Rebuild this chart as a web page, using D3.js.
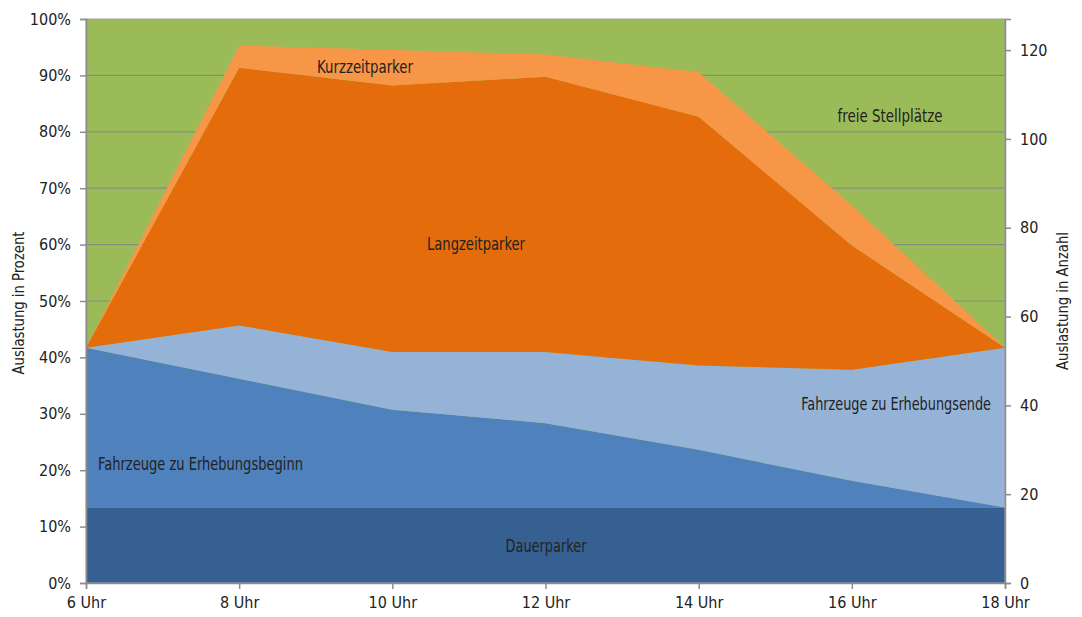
<!DOCTYPE html>
<html><head><meta charset="utf-8">
<script src="https://cdn.jsdelivr.net/npm/d3@7"></script>
<style>
html,body{margin:0;padding:0;background:#fff;}
svg{display:block;}
text{font-family:"Liberation Sans Narrow","DejaVu Sans Condensed","Roboto",sans-serif;fill:#222;}
</style></head>
<body>
<svg id="chart" width="1082" height="617"></svg>
<script>
// ---- data (vehicle counts) ----
const times = ["6 Uhr","8 Uhr","10 Uhr","12 Uhr","14 Uhr","16 Uhr","18 Uhr"];
const capacity = 127;
const dauerparker = [17,17,17,17,17,17,17];
const beginn      = [36,29,22,19,13,6,0];
const ende        = [0,12,13,16,19,25,36];
const langzeit    = [0,58,60,62,56,28,0];
const kurzzeit    = [0,5,8,5,10,9,0];
const percentTicks = [0,0.1,0.2,0.3,0.4,0.5,0.6,0.7,0.8,0.9,1];
const countTicks = [0,20,40,60,80,100,120];
const seriesNames = ["Dauerparker","Fahrzeuge zu Erhebungsbeginn","Fahrzeuge zu Erhebungsende","Langzeitparker","Kurzzeitparker"];
const seriesColors = ["#366092","#4f81bd","#95b3d7","#e46c0a","#f79646"];
const freeColor = "#9bbb59";

const rows = times.map((t,i)=>({
  t,
  "Dauerparker":dauerparker[i],
  "Fahrzeuge zu Erhebungsbeginn":beginn[i],
  "Fahrzeuge zu Erhebungsende":ende[i],
  "Langzeitparker":langzeit[i],
  "Kurzzeitparker":kurzzeit[i]
}));

const svg = d3.select("#chart");
const L=86, R=1005, T=19, B=583;
const x = d3.scalePoint().domain(times).range([L,R]);
const y = d3.scaleLinear().domain([0,capacity]).range([B,T]);
const yp = d3.scaleLinear().domain([0,1]).range([B,T]);

// plot background (free spaces)
svg.append("rect").attr("x",L).attr("y",T).attr("width",R-L).attr("height",B-T)
  .attr("fill",freeColor);

// gridlines
svg.append("g").selectAll("line").data(percentTicks.slice(1,-1)).join("line")
  .attr("x1",L).attr("x2",R).attr("y1",d=>yp(d)).attr("y2",d=>yp(d))
  .attr("stroke","#858f7c").attr("stroke-width",1.2);

const stack = d3.stack().keys(seriesNames);
const layers = stack(rows);
const area = d3.area().x(d=>x(d.data.t)).y0(d=>y(d[0])).y1(d=>y(d[1]));
svg.append("g").selectAll("path").data(layers).join("path")
  .attr("d",area).attr("fill",(d,i)=>seriesColors[i]);

// plot border
svg.append("rect").attr("x",L).attr("y",T).attr("width",R-L).attr("height",B-T)
  .attr("fill","none").attr("stroke","#a0a0a0").attr("stroke-width",1);

// axes
const axStyle = g=>{
  g.select(".domain").attr("stroke","#8c8c8c").attr("stroke-width",1.5);
  g.selectAll(".tick line").attr("stroke","#8c8c8c").attr("stroke-width",1.5);
  g.selectAll("text").style("font-size","16px").attr("fill","#222");
};
svg.append("g").attr("transform",`translate(${L},0)`)
  .call(d3.axisLeft(yp).tickValues(percentTicks).tickFormat(d3.format(".0%")).tickSize(6).tickPadding(9))
  .call(axStyle);
svg.append("g").attr("transform",`translate(${R},0)`)
  .call(d3.axisRight(y).tickValues(countTicks).tickSize(6).tickPadding(9))
  .call(axStyle);
svg.append("g").attr("transform",`translate(0,${B})`)
  .call(d3.axisBottom(x).tickSize(6).tickPadding(8))
  .call(axStyle);

// fitted text: scale horizontally so natural width becomes w
function fitText(t, xx, yy, anchor, w, size, fill, rot){
  const g = svg.append("g");
  const tx = g.append("text").attr("text-anchor",anchor).attr("dominant-baseline","central")
    .style("font-size",size+"px").attr("fill",fill||"#111").text(t);
  const nat = tx.node().getComputedTextLength();
  const k = w / nat;
  g.attr("transform",`translate(${xx},${yy})${rot?` rotate(${rot})`:""} scale(${k},1)`);
  return g;
}
// axis titles
fitText("Auslastung in Prozent",19,303,"middle",143,16,"#222",-90);
fitText("Auslastung in Anzahl",1063,301,"middle",138,16,"#222",-90);

// series labels
fitText("Kurzzeitparker",365,67,"middle",96,17);
fitText("Langzeitparker",476,244,"middle",98,17);
fitText("freie Stellplätze",890,116,"middle",105,17);
fitText("Fahrzeuge zu Erhebungsbeginn",98,464,"start",205,17);
fitText("Fahrzeuge zu Erhebungsende",991,404,"end",190,17);
fitText("Dauerparker",546,546,"middle",81,17,"#ffffff");
</script>
</body></html>
